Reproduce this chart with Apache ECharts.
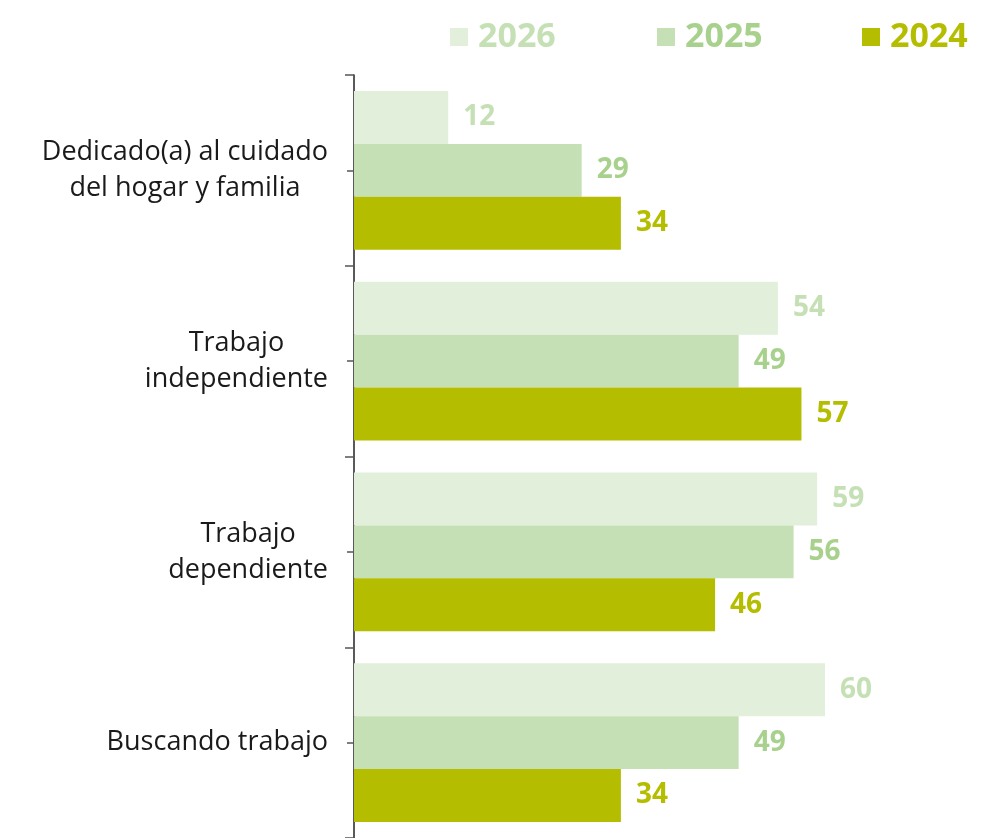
<!DOCTYPE html>
<html>
<head>
<meta charset="utf-8">
<script src="https://cdn.jsdelivr.net/npm/echarts@6/dist/echarts.min.js"></script>
<style>
  html, body { margin: 0; padding: 0; background: #fff; }
  #chart { width: 986px; height: 838px; }
</style>
</head>
<body>
<div id="chart"></div>
<script>
// datos del grafico
var categories = ['Dedicado(a) al cuidado\ndel hogar y familia', 'Trabajo\nindependiente', 'Trabajo\ndependiente', 'Buscando trabajo'];
var seriesNames = ['2026', '2025', '2024'];
var values2026 = [12, 54, 59, 60];
var values2025 = [29, 49, 56, 49];
var values2024 = [34, 57, 46, 34];

var barColors = ['#e2efda', '#c5e0b4', '#b5bd00'];
var labelColors = ['#c5e0b4', '#a9d18e', '#b5bd00'];
var fontFamily = '"Open Sans", "DejaVu Sans", sans-serif';

function makeSeries(name, data, idx) {
	return {
		name: name,
		type: 'bar',
		data: data,
		barGap: '0%',
		barCategoryGap: '16.8%',
		itemStyle: { color: barColors[idx] },
		label: {
			show: true,
			position: 'right',
			distance: 15,
			color: labelColors[idx],
			fontFamily: fontFamily,
			fontWeight: 'bold',
			fontSize: 28
		}
	};
}

function makeLegend(name, left) {
	return {
		data: [name],
		left: left,
		top: 20,
		padding: 0,
		itemWidth: 18,
		itemHeight: 18,
		icon: 'rect',
		itemGap: 0,
		textStyle: {
			color: labelColors[seriesNames.indexOf(name)],
			fontFamily: fontFamily,
			fontWeight: 'bold',
			fontSize: 34,
			padding: [0, 0, 0, 5]
		}
	};
}

var myChart = echarts.init(document.getElementById('chart'));
var option = {
	animation: false,
	legend: [
		makeLegend('2026', 450),
		makeLegend('2025', 657),
		makeLegend('2024', 862)
	],
	grid: {
		left: 354,
		right: 4,
		top: 75,
		bottom: -1,
		containLabel: false
	},
	xAxis: {
		type: 'value',
		min: 0,
		max: 80,
		show: false
	},
	yAxis: [
		{
			type: 'category',
			data: categories,
			inverse: true,
			axisLine: { show: true, lineStyle: { color: '#222', width: 1.5 } },
			axisTick: { show: true, length: 9, lineStyle: { color: '#555', width: 1.5 } },
			axisLabel: {
				margin: 26,
				formatter: function (v) {
					return v.split('\n').map(function (s) { return '{c|' + s + '}'; }).join('\n');
				},
				rich: {
					c: {
						align: 'center',
						color: '#1a1a1a',
						fontFamily: fontFamily,
						fontSize: 27,
						lineHeight: 36
					}
				}
			}
		},
		{
			type: 'category',
			data: categories,
			inverse: true,
			position: 'left',
			axisLine: { show: false },
			axisTick: { show: true, alignWithLabel: true, length: 7, lineStyle: { color: '#555', width: 1.5 } },
			axisLabel: { show: false }
		}
	],
	series: [
		makeSeries('2026', values2026, 0),
		makeSeries('2025', values2025, 1),
		makeSeries('2024', values2024, 2)
	]
};
myChart.setOption(option);
</script>
</body>
</html>
